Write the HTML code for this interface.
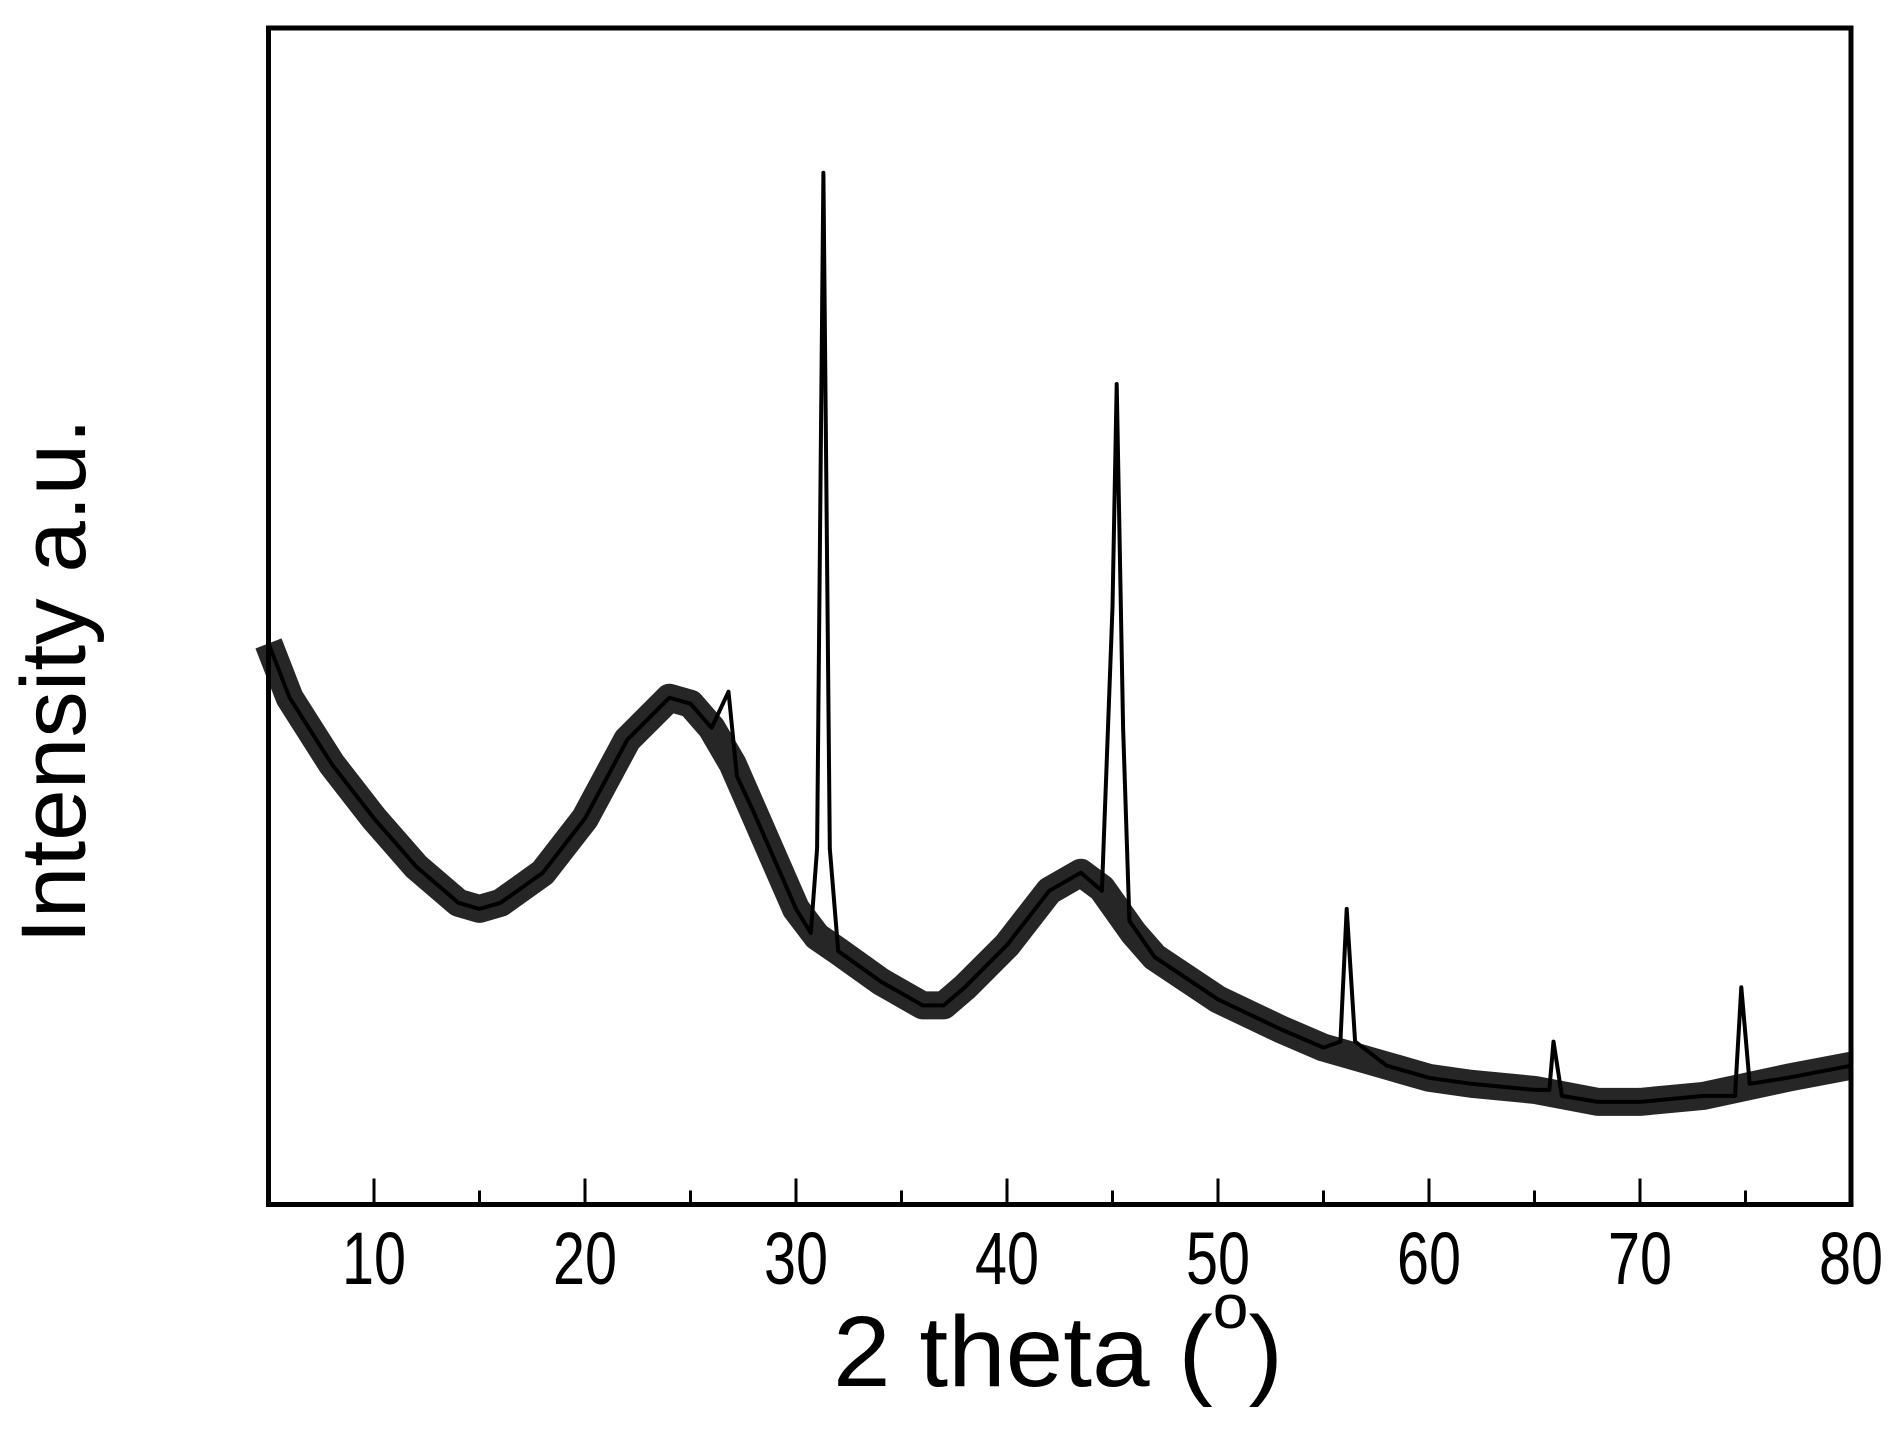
<!DOCTYPE html>
<html><head><meta charset="utf-8"><style>
html,body{margin:0;padding:0;background:#fff;}
svg{display:block;font-family:"Liberation Sans",Arial,sans-serif;}
</style></head><body>
<svg id="chart" width="1898" height="1432" viewBox="0 0 1898 1432" xmlns="http://www.w3.org/2000/svg">
<g id="marks"></g>
<rect x="268.5" y="28" width="1582.5" height="1176.5" fill="none" stroke="#000" stroke-width="5"/>
<g id="ticks"></g>
<text x="833" y="1386" font-size="100" textLength="450" lengthAdjust="spacingAndGlyphs">2 theta (<tspan font-size="62" dy="-58">o</tspan><tspan dy="58">)</tspan></text>
<text transform="translate(85,681) rotate(-90)" text-anchor="middle" font-size="92" textLength="526" lengthAdjust="spacingAndGlyphs">Intensity a.u.</text>
</svg>
<script>
// Full pattern (2θ in degrees, intensity in arbitrary units)
const theta = [5,6,8,10,12,14,15,16,18,20,22,24,25,26,26.8,27.2,28,29,30,30.7,31.0,31.3,31.6,32,34,36,37,38,40,42,43.5,44.5,45.0,45.2,45.5,45.8,47,50,53,55,55.8,56.1,56.5,58,60,62,65,65.7,65.9,66.3,68,70,73,74.5,74.8,75.2,77,80];
const intensity = [465,420,365,320,280,250,245,250,275,320,385,420,415,395,425,355,325,285,245,225,295,855,295,210,185,165,165,180,215,260,275,260,495,680,395,235,205,170,145,130,135,245,135,115,105,100,95,95,135,90,85,85,90,90,180,100,105,115];
// Amorphous background (without sharp reflections) used for the noise band
const bgTheta = [5,6,8,10,12,14,15,16,18,20,22,24,25,26,27,28,29,30,31,32,34,36,37,38,40,42,43.5,44.5,46,47,50,53,55,58,60,62,65,68,70,73,77,80];
const bgIntensity = [465,420,365,320,280,250,245,250,275,320,385,420,415,395,365,325,285,245,222,210,185,165,165,180,215,260,275,262,225,205,170,145,130,115,105,100,95,85,85,90,105,115];
const xTicks = [10,20,30,40,50,60,70,80];
const xMinorTicks = [15,25,35,45,55,65,75];

const X0=268.5, X1=1851, Y0=1204.5, Y1=28;
const xMin=5, xMax=80, yMin=0, yMax=975;
const xs = v => X0 + (v-xMin)/(xMax-xMin)*(X1-X0);
const ys = v => Y0 - (v-yMin)/(yMax-yMin)*(Y0-Y1);
const NS="http://www.w3.org/2000/svg";
const marks=document.getElementById('marks');
const ticks=document.getElementById('ticks');

function pathFrom(tx,ty){return tx.map((t,i)=>(i?'L':'M')+xs(t).toFixed(1)+','+ys(ty[i]).toFixed(1)).join(' ');}

const band=document.createElementNS(NS,'path');


band.setAttribute('d',pathFrom(bgTheta,bgIntensity));
band.setAttribute('fill','none');band.setAttribute('stroke','#000');
band.setAttribute('stroke-width','28');band.setAttribute('stroke-linejoin','round');
band.setAttribute('stroke-opacity','0.85');
marks.appendChild(band);

const line=document.createElementNS(NS,'path');


line.setAttribute('d',pathFrom(theta,intensity));
line.setAttribute('fill','none');line.setAttribute('stroke','#000');
line.setAttribute('stroke-width','4');line.setAttribute('stroke-linejoin','round');
marks.appendChild(line);

xTicks.forEach(t=>{
  const l=document.createElementNS(NS,'line');
  
  
  l.setAttribute('x1',xs(t));l.setAttribute('x2',xs(t));
  l.setAttribute('y1',Y0);l.setAttribute('y2',Y0-26);
  l.setAttribute('stroke','#000');l.setAttribute('stroke-width','3');
  ticks.appendChild(l);
  const tx=document.createElementNS(NS,'text');
  
  
  tx.setAttribute('x',xs(t));tx.setAttribute('y',1284);
  tx.setAttribute('text-anchor','middle');tx.setAttribute('font-size','74');
  tx.setAttribute('textLength','64');tx.setAttribute('lengthAdjust','spacingAndGlyphs');
  tx.textContent=String(t);
  ticks.appendChild(tx);
});
xMinorTicks.forEach(t=>{
  const l=document.createElementNS(NS,'line');
  
  
  l.setAttribute('x1',xs(t));l.setAttribute('x2',xs(t));
  l.setAttribute('y1',Y0);l.setAttribute('y2',Y0-14);
  l.setAttribute('stroke','#000');l.setAttribute('stroke-width','3');
  ticks.appendChild(l);
});
</script>
</body></html>
